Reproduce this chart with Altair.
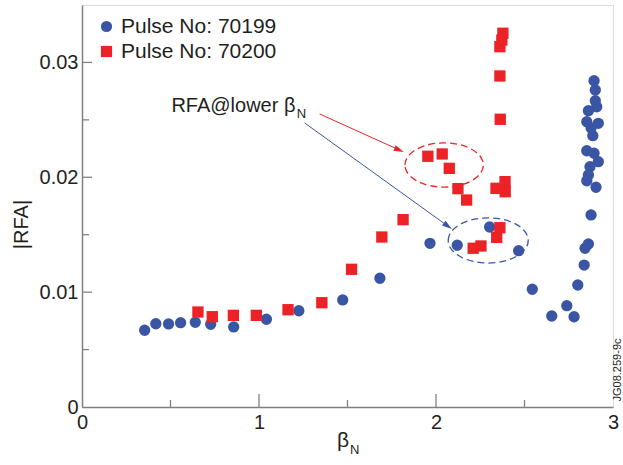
import altair as alt
import pandas as pd

# ---------------- data ----------------
pulse_a = "Pulse No: 70199"
pulse_b = "Pulse No: 70200"

beta_a = [0.354, 0.417, 0.489, 0.557, 0.640, 0.727, 0.857, 1.042, 1.225, 1.473,
          1.683, 1.966, 2.120, 2.303, 2.467, 2.544, 2.654, 2.739, 2.780, 2.801,
          2.837, 2.842, 2.861, 2.876, 2.904, 2.852, 2.861, 2.870, 2.917, 2.893,
          2.852, 2.886, 2.876, 2.917, 2.852, 2.908, 2.861, 2.900, 2.900, 2.893]
rfa_a = [0.00668, 0.00725, 0.00723, 0.00734, 0.00737, 0.00720, 0.00697, 0.00764, 0.00838, 0.00932,
         0.01121, 0.01425, 0.01408, 0.01567, 0.01361, 0.01025, 0.00792, 0.00882, 0.00786, 0.01062,
         0.01236, 0.01382, 0.01419, 0.01672, 0.01913, 0.01970, 0.02020, 0.02092, 0.02136, 0.02209,
         0.02231, 0.02362, 0.02429, 0.02470, 0.02484, 0.02614, 0.02580, 0.02667, 0.02760, 0.02841]

beta_b = [0.655, 0.736, 0.855, 0.985, 1.164, 1.355, 1.523, 1.694, 1.814, 1.954,
          2.035, 2.075, 2.124, 2.173, 2.210, 2.254, 2.343, 2.361, 2.339, 2.390,
          2.391, 2.363, 2.361, 2.361, 2.372, 2.378]
rfa_b = [0.00827, 0.00786, 0.00798, 0.00798, 0.00847, 0.00908, 0.01199, 0.01480, 0.01631, 0.02183,
         0.02203, 0.02078, 0.01901, 0.01802, 0.01382, 0.01402, 0.01477, 0.01561, 0.01904, 0.01962,
         0.01874, 0.02505, 0.02882, 0.03137, 0.03195, 0.03254]

x_labels = [0, 1, 2, 3]
y_labels = [0, 0.01, 0.02, 0.03]
x_major = [1, 2]
x_minor = [0.5, 1.5, 2.5]
y_major = [0.01, 0.02, 0.03]
y_minor = [0.005, 0.015, 0.025]

# annotation: ellipses (centre), arrows (start -> head)
ell_beta = [2.046, 2.295]
ell_rfa = [0.02107, 0.01450]
ell_size = [6147, 6400]
arr_beta = [1.343, 1.258]
arr_rfa = [0.02551, 0.02473]
arr_beta2 = [1.792, 2.067]
arr_rfa2 = [0.02238, 0.01575]
arr_angle = [24, 36]
ann_text = "RFA@lower β"
ann_sub = "N"
watermark = "JG08.259-9c"

# ---------------- style ----------------
BLUE = "#3a55a4"
RED = "#ec2227"
GRAY = "#808080"
INK = "#231f20"
FONT = "Liberation Sans"
W, H = 531, 402

xs = alt.Scale(domain=[0, 3], nice=False, zero=False)
ys = alt.Scale(domain=[0, 0.035], nice=False, zero=False)

df = pd.DataFrame({
    "beta": beta_a + beta_b,
    "rfa": rfa_a + rfa_b,
    "pulse": [pulse_a] * len(beta_a) + [pulse_b] * len(beta_b),
})

points = alt.Chart(df).mark_point(filled=True, opacity=1, size=128, strokeWidth=0).encode(
    x=alt.X("beta:Q", scale=xs, title=None,
            axis=alt.Axis(values=x_labels, format="d", ticks=False, grid=False,
                          labelFontSize=20, labelColor=INK, labelFont=FONT, labelPadding=5,
                          labelFlush=False, domainColor=GRAY, domainWidth=1.5)),
    y=alt.Y("rfa:Q", scale=ys, title="|RFA|",
            axis=alt.Axis(values=y_labels, format=".2~f", ticks=False, grid=False,
                          labelFontSize=20, labelColor=INK, labelFont=FONT, labelPadding=4,
                          labelFlush=False, domainColor=GRAY, domainWidth=1.5,
                          titleFontSize=20, titleFont=FONT, titleFontWeight="normal",
                          titleColor=INK, titleX=-61, titleY=219, titleAlign="center",
                          titleBaseline="middle")),
    color=alt.Color("pulse:N", scale=alt.Scale(domain=[pulse_a, pulse_b], range=[BLUE, RED]),
                    legend=alt.Legend(orient="none", legendX=14, legendY=11, title=None,
                                      labelFontSize=21, labelFont=FONT, labelColor=INK,
                                      symbolSize=125, symbolStrokeWidth=0, rowPadding=3,
                                      labelOffset=4, padding=0)),
    shape=alt.Shape("pulse:N", scale=alt.Scale(domain=[pulse_a, pulse_b], range=["circle", "square"])),
    order=alt.Order("pulse:N"),
)

def ticks(vals, horizontal, length):
    d = pd.DataFrame({"beta" if not horizontal else "rfa": vals})
    if horizontal:
        enc = dict(y=alt.Y("rfa:Q", scale=ys), x=alt.value(0), x2=alt.value(length))
    else:
        enc = dict(x=alt.X("beta:Q", scale=xs), y=alt.value(H), y2=alt.value(H - length))
    return alt.Chart(d).mark_rule(color=GRAY, strokeWidth=1.3).encode(**enc)

tick_layers = [ticks(y_major, True, 10), ticks(y_minor, True, 7),
               ticks(x_major, False, 13), ticks(x_minor, False, 7)]

ELLIPSE = ("M -1 0 C -1 -0.312 -0.552 -0.565 0 -0.565 C 0.552 -0.565 1 -0.312 1 0 "
           "C 1 0.312 0.552 0.565 0 0.565 C -0.552 0.565 -1 0.312 -1 0 Z")
HEAD = "M -1 -0.6 L 1 0 L -1 0.6 Z"

ann = pd.DataFrame({
    "beta": ell_beta, "rfa": ell_rfa, "sz": ell_size,
    "c": [RED, BLUE],
})
ellipses = alt.Chart(ann).mark_point(shape=ELLIPSE, filled=False, strokeWidth=1.3,
                                     strokeDash=[7, 4], opacity=1).encode(
    x=alt.X("beta:Q", scale=xs), y=alt.Y("rfa:Q", scale=ys),
    size=alt.Size("sz:Q", scale=None), stroke=alt.Stroke("c:N", scale=None),
)

arr = pd.DataFrame({"beta": arr_beta, "rfa": arr_rfa, "beta2": arr_beta2, "rfa2": arr_rfa2,
                    "ang": arr_angle, "c": [RED, BLUE]})
lines = alt.Chart(arr).mark_rule(strokeWidth=1).encode(
    x=alt.X("beta:Q", scale=xs), y=alt.Y("rfa:Q", scale=ys), x2="beta2", y2="rfa2",
    color=alt.Color("c:N", scale=None),
)
heads = alt.Chart(arr).mark_point(shape=HEAD, filled=True, size=100, strokeWidth=0, opacity=1).encode(
    x=alt.X("beta2:Q", scale=xs), y=alt.Y("rfa2:Q", scale=ys),
    angle=alt.Angle("ang:Q", scale=None), color=alt.Color("c:N", scale=None),
)

txt_df = pd.DataFrame({"beta": [0.505], "rfa": [0.02568], "t": [ann_text]})
ann_txt = alt.Chart(txt_df).mark_text(align="left", baseline="alphabetic", fontSize=20,
                                      font=FONT, color=INK).encode(
    x=alt.X("beta:Q", scale=xs), y=alt.Y("rfa:Q", scale=ys), text="t:N")
sub_df = pd.DataFrame({"beta": [1.213], "rfa": [0.02516], "t": [ann_sub]})
ann_sub_txt = alt.Chart(sub_df).mark_text(align="left", baseline="alphabetic", fontSize=13,
                                          font=FONT, color=INK).encode(
    x=alt.X("beta:Q", scale=xs), y=alt.Y("rfa:Q", scale=ys), text="t:N")

xt_df = pd.DataFrame({"beta": [1.475], "t": ["β"]})
x_title = alt.Chart(xt_df).mark_text(align="center", baseline="alphabetic", fontSize=21,
                                     font=FONT, color=INK).encode(
    x=alt.X("beta:Q", scale=xs), y=alt.value(442), text="t:N")
xs_df = pd.DataFrame({"beta": [1.514], "t": ["N"]})
x_sub = alt.Chart(xs_df).mark_text(align="left", baseline="alphabetic", fontSize=13,
                                   font=FONT, color=INK).encode(
    x=alt.X("beta:Q", scale=xs), y=alt.value(449), text="t:N")

wm_df = pd.DataFrame({"t": [watermark]})
wm = alt.Chart(wm_df).mark_text(angle=270, align="center", baseline="middle", fontSize=11,
                                font=FONT, color=INK).encode(
    x=alt.value(536), y=alt.value(365), text="t:N")

chart = alt.layer(points, *tick_layers, ellipses, lines, heads, ann_txt, ann_sub_txt,
                  x_title, x_sub, wm).properties(
    width=W, height=H,
    autosize=alt.AutoSizeParams(type="none"),
    padding={"left": 82, "top": 5, "right": 10, "bottom": 58},
).configure_view(stroke=GRAY, strokeWidth=1.5).configure(background="white")

chart.save("out.html", embed_options={"renderer": "svg", "actions": False})
